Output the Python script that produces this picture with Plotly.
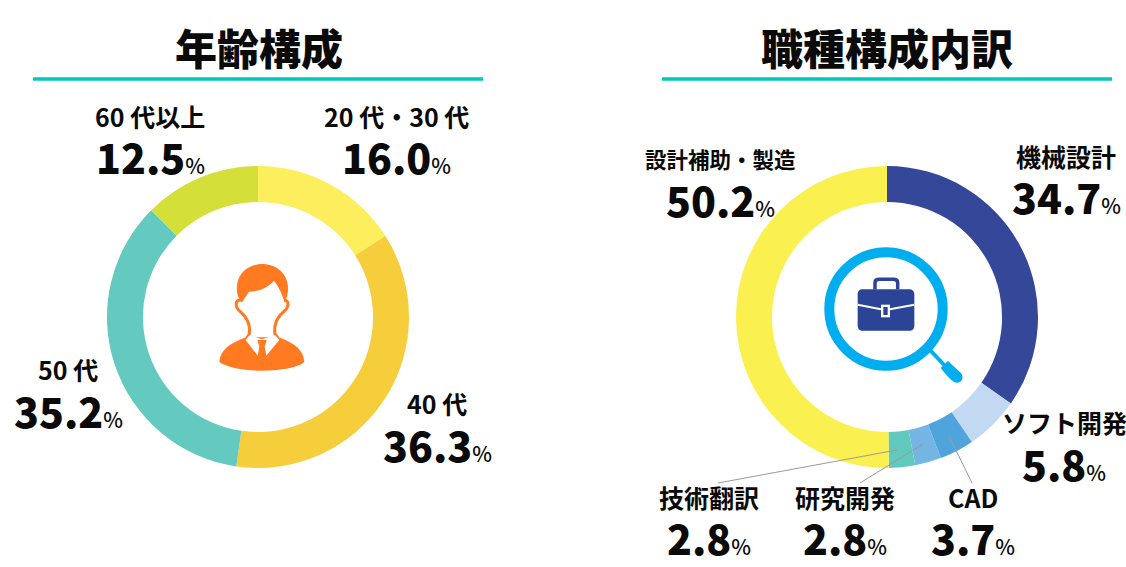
#!/usr/bin/env python3
"""Age and job-type breakdown donuts with drawn icons in the middle."""
import re

import plotly.graph_objects as go

WIDTH = 1126
HEIGHT = 567
FONT = "Noto Sans CJK JP"

age_title = "年齢構成"
age_labels = ["20 代・30 代", "40 代", "50 代", "60 代以上"]
age_values = [16.0, 36.3, 35.2, 12.5]
age_colors = ["#FCEE5D", "#F6CE3B", "#64C9BF", "#D5DF3A"]

job_title = "職種構成内訳"
job_labels = ["機械設計", "ソフト開発", "CAD", "研究開発", "技術翻訳", "設計補助・製造"]
job_values = [34.7, 5.8, 3.7, 2.8, 2.8, 50.2]
job_colors = ["#344799", "#C3D9F1", "#4FA4DC", "#74B5E3", "#62C9BE", "#FAF04F"]


def px(x):
    return x / WIDTH


def py(y):
    return 1 - y / HEIGHT


def icon_path(x0, y0, path, scale=1 / 3):
    """Turn a path drawn in local units into paper coordinates."""
    parts = re.findall(r"[A-Za-z]|-?[\d.]+", path)
    out = []
    is_x = True
    for part in parts:
        if part.isalpha():
            out.append(part)
            is_x = True
        elif is_x:
            out.append(f"{px(x0 + float(part) * scale):.5f}")
            is_x = False
        else:
            out.append(f"{py(y0 + float(part) * scale):.5f}")
            is_x = True
    return " ".join(out)


def donut(values, colors, names, x0, x1, y0, y1):
    return go.Pie(
        values=values,
        labels=names,
        marker=dict(colors=colors, line=dict(width=0)),
        hole=0.762,
        sort=False,
        direction="clockwise",
        rotation=0,
        textinfo="none",
        hoverinfo="label+percent",
        showlegend=False,
        domain=dict(x=[px(x0), px(x1)], y=[py(y1), py(y0)]),
    )


fig = go.Figure()
fig.add_trace(donut(age_values, age_colors, age_labels, 107, 409, 166, 468))
fig.add_trace(donut(job_values, job_colors, job_labels, 736, 1038, 166, 468))


def add_text(x, y, text, size, weight=700):
    fig.add_annotation(
        x=px(x), y=py(y), xref="paper", yref="paper", text=text, showarrow=False,
        xanchor="center", yanchor="middle",
        font=dict(family=FONT, size=size, color="#0A0A0A", weight=weight),
    )


def add_label(x, y, name, value, name_size=25):
    add_text(x, y, name, name_size)
    add_text(x, y + 40.5, f"{value:.1f}<span style='font-size:21px;font-weight:500'>%</span>", 41, 900)


add_text(259, 46, age_title, 42, 900)
add_text(887, 46, job_title, 42, 900)
add_label(150, 115.5, age_labels[3], age_values[3])
add_label(396, 115.5, age_labels[0], age_values[0])
add_label(68, 369, age_labels[2], age_values[2])
add_label(437, 403, age_labels[1], age_values[1])
add_label(720, 158.5, job_labels[5], job_values[5], 21.5)
add_label(1066, 156, job_labels[0], job_values[0])
add_label(1064, 422, job_labels[1], job_values[1])
add_label(709, 496.5, job_labels[4], job_values[4])
add_label(845, 496.5, job_labels[3], job_values[3])
add_label(973, 496.5, job_labels[2], job_values[2])


def add_line(x0, y0, x1, y1, color, width):
    fig.add_shape(type="line", xref="paper", yref="paper", x0=px(x0), y0=py(y0), x1=px(x1), y1=py(y1),
                  line=dict(color=color, width=width))


def add_fill(path, fill):
    fig.add_shape(type="path", xref="paper", yref="paper", path=path, fillcolor=fill, line=dict(width=0))


def add_stroke(path, color, width):
    fig.add_shape(type="path", xref="paper", yref="paper", path=path, line=dict(color=color, width=width))


# heading rules
add_line(33, 79, 483, 79, "#00C8BB", 3.5)
add_line(662, 79, 1112, 79, "#00C8BB", 3.5)

# leader lines for the small slices
add_line(718, 483, 897, 450, "#9A9A9A", 1)
add_line(860, 483, 923, 444, "#9A9A9A", 1)
add_line(972, 483, 949, 436, "#9A9A9A", 1)

# person icon
ORANGE = "#FF7A21"
add_fill(icon_path(200, 250, "M 125,158 C 112,140 108,125 112,100 C 118,65 150,42 190,42 C 232,44 262,72 264,110 "
                             "C 265,125 262,142 254,158 C 248,135 238,112 222,92 C 205,112 175,125 147,125 Z"), ORANGE)
add_stroke(icon_path(200, 250, "M 122,150 C 104,150 104,172 122,186 C 140,200 152,225 148,252 L 140,264"), ORANGE, 3)
add_stroke(icon_path(200, 250, "M 252,150 C 268,150 268,172 250,186 C 232,200 220,225 225,252 L 234,264"), ORANGE, 3)
add_fill(icon_path(200, 250, "M 138,262 C 90,280 60,300 58,336 C 85,355 140,362 185,362 C 235,362 290,355 313,336 "
                             "C 310,300 285,280 236,262 Z"), ORANGE)
add_fill(icon_path(200, 250, "M 148,256 L 137,270 L 174,318 L 198,318 L 238,270 L 226,256 L 186,268 Z"), "#FFFFFF")
add_fill(icon_path(200, 250, "M 172,270 L 200,270 L 194,290 L 199,318 L 186,332 L 173,318 L 178,290 Z"), ORANGE)

# magnifier icon
BLUE = "#00AEEF"
NAVY = "#2B4496"
fig.add_shape(type="circle", xref="paper", yref="paper", x0=px(886 - 56.7), x1=px(886 + 56.7),
              y0=py(309 + 56.7), y1=py(309 - 56.7), line=dict(color=BLUE, width=10))
add_line(930, 350, 946, 367, BLUE, 4)
add_fill(icon_path(810, 230, "M 414,393 L 452,428 C 466,442 452,466 432,456 C 420,448 404,430 392,414 Z"), BLUE)

# briefcase
add_stroke(icon_path(810, 230, "M 195,178 L 195,158 C 195,150 200,148 208,148 L 250,148 C 258,148 263,150 263,158 L 263,178"),
           NAVY, 3.5)
add_fill(icon_path(810, 230, "M 158,178 L 298,178 C 308,178 313,184 313,193 L 313,287 C 313,296 307,302 298,302 "
                             "L 158,302 C 149,302 143,296 143,287 L 143,193 C 143,184 149,178 158,178 Z"), NAVY)
add_stroke(icon_path(810, 230, "M 143,224 L 213,238"), "#FFFFFF", 2)
add_stroke(icon_path(810, 230, "M 240,238 L 313,224"), "#FFFFFF", 2)
add_fill(icon_path(810, 230, "M 213,224 L 240,224 L 240,262 L 213,262 Z"), "#FFFFFF")
add_fill(icon_path(810, 230, "M 220,231 L 233,231 L 233,255 L 220,255 Z"), NAVY)

fig.update_layout(
    width=WIDTH,
    height=HEIGHT,
    margin=dict(l=0, r=0, t=0, b=0),
    paper_bgcolor="#FFFFFF",
    plot_bgcolor="#FFFFFF",
    font=dict(family=FONT),
)

fig.write_html("out.html", config=dict(displayModeBar=False), post_script="document.body.style.margin='0';")
